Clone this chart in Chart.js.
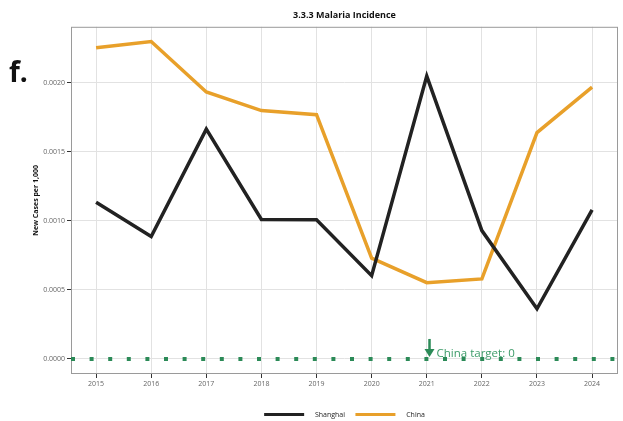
<!DOCTYPE html>
<html>
<head>
<meta charset="utf-8">
<script src="https://cdn.jsdelivr.net/npm/chart.js@4/dist/chart.umd.min.js"></script>
<style>
  html, body { margin: 0; padding: 0; background: #fff; }
  #wrap { width: 623px; height: 421px; position: relative; }
</style>
</head>
<body>
<div id="wrap"><canvas id="malaria_chart"></canvas></div>
<script>
// data
var years = [2015, 2016, 2017, 2018, 2019, 2020, 2021, 2022, 2023, 2024];
var shanghai = [0.001135, 0.000887, 0.001665, 0.001011, 0.001008, 0.000604, 0.00205, 0.00093, 0.000364, 0.00108];
var china = [0.002255, 0.0023, 0.001935, 0.0018, 0.00177, 0.00073, 0.000553, 0.00058, 0.00164, 0.00197];
var yTicks = [0, 0.0005, 0.0010, 0.0015, 0.0020];
var chinaTarget = 0;
var targetYear = 2021.05;

var xMin = 2014.545, xMax = 2024.47;
var yMin = -0.000109, yMax = 0.002407;

function points(vals) {
    return years.map(function(y, i) { return {x: y, y: vals[i]}; });
}

var green = '#2b8a57';

// panel border, "f." tag and target annotation
var extras = {
    id: 'extras',
    beforeDatasetsDraw: function(chart) {
        var a = chart.chartArea, ctx = chart.ctx;
        ctx.save();
        ctx.strokeStyle = '#9a9a9a';
        ctx.lineWidth = 1;
        ctx.strokeRect(a.left + 0.5, a.top + 0.5, a.right - a.left - 1, a.bottom - a.top - 1);
        ctx.restore();
    },
    afterDraw: function(chart) {
        var ctx = chart.ctx;
        var xs = chart.scales.x, ys = chart.scales.y;
        ctx.save();
        ctx.fillStyle = '#111';
        ctx.font = 'bold 28px "Open Sans"';
        ctx.textBaseline = 'alphabetic';
        ctx.fillText('f.', 9, 82);

        var px = xs.getPixelForValue(targetYear);
        var py = ys.getPixelForValue(chinaTarget);
        ctx.strokeStyle = green;
        ctx.fillStyle = green;
        ctx.lineWidth = 2.5;
        ctx.beginPath();
        ctx.moveTo(px, py - 20);
        ctx.lineTo(px, py - 9);
        ctx.stroke();
        ctx.beginPath();
        ctx.moveTo(px - 5, py - 10);
        ctx.lineTo(px + 5, py - 10);
        ctx.lineTo(px, py - 2);
        ctx.closePath();
        ctx.fill();
        ctx.fillStyle = '#3d9b69';
        ctx.font = '11.5px "Open Sans"';
        ctx.fillText('China target: ' + chinaTarget, px + 7, py - 2);
        ctx.restore();
    }
};

var chartData = {
    datasets: [
        {
            label: 'Shanghai',
            data: points(shanghai),
            borderColor: '#222222',
            backgroundColor: '#222222',
            borderWidth: 3.5,
            pointRadius: 0,
            tension: 0
        }, {
            label: 'China',
            data: points(china),
            borderColor: '#E8A02A',
            backgroundColor: '#E8A02A',
            borderWidth: 3.5,
            pointRadius: 0,
            tension: 0
        }, {
            label: 'target',
            data: [{x: xMin, y: chinaTarget}, {x: xMax, y: chinaTarget}],
            borderColor: green,
            borderWidth: 4,
            borderDash: [4, 14.6],
            borderCapStyle: 'butt',
            pointRadius: 0
        }
    ]
};

var tickFont = {family: 'Open Sans', size: 7};

var chartOptions = {
    responsive: true,
    maintainAspectRatio: false,
    animation: false,
    layout: {padding: {left: 30, right: 5, top: 0, bottom: -7}},
    plugins: {
        title: {
            display: true,
            text: '3.3.3 Malaria Incidence',
            fullSize: false,
            color: '#111',
            font: {family: 'Open Sans', size: 9, weight: 'bold'},
            padding: {top: 10, bottom: 6}
        },
        legend: {
            position: 'bottom',
            fullSize: false,
            labels: {
                boxWidth: 40,
                boxHeight: 3,
                padding: 5,
                color: '#222',
                font: tickFont,
                generateLabels: function(chart) {
                    return chart.data.datasets.slice(0, 2).map(function(ds, i) {
                        return {
                            text: '    ' + ds.label + (i === 0 ? '   ' : ''),
                            fillStyle: ds.borderColor,
                            strokeStyle: ds.borderColor,
                            lineWidth: 0,
                            fontColor: '#222',
                            datasetIndex: i,
                            hidden: false
                        };
                    });
                }
            }
        },
        tooltip: {enabled: false}
    },
    scales: {
        x: {
            type: 'linear',
            min: xMin,
            max: xMax,
            afterBuildTicks: function(s) { s.ticks = years.map(function(v) { return {value: v}; }); },
            afterFit: function(s) { s.height = 32; },
            ticks: {
                color: '#666',
                font: tickFont,
                padding: 2,
                maxRotation: 0,
                callback: function(v) { return String(v); }
            },
            grid: {color: '#e2e2e2', tickColor: '#333', tickLength: 4},
            border: {display: false}
        },
        y: {
            min: yMin,
            max: yMax,
            afterBuildTicks: function(s) { s.ticks = yTicks.map(function(v) { return {value: v}; }); },
            afterFit: function(s) { s.width = 41; },
            ticks: {
                color: '#666',
                font: tickFont,
                padding: 2,
                callback: function(v) { return v.toFixed(4); }
            },
            grid: {color: '#e2e2e2', tickColor: '#333', tickLength: 4},
            border: {display: false},
            title: {
                display: true,
                text: 'New Cases per 1,000',
                color: '#111',
                font: {family: 'Open Sans', size: 7, weight: 'bold'},
                padding: {top: 2, bottom: 2}
            }
        }
    }
};

var ctx = document.getElementById('malaria_chart').getContext('2d');
new Chart(ctx, {type: 'line', data: chartData, options: chartOptions, plugins: [extras]});
</script>
</body>
</html>
